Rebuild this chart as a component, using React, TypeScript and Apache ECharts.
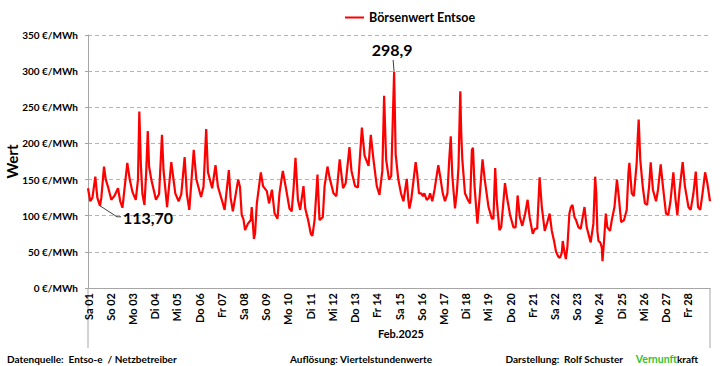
import React, { useEffect, useRef } from "react";
import * as echarts from "echarts";

const dayLabels = [
  "Sa 01", "So 02", "Mo 03", "Di 04", "Mi 05", "Do 06", "Fr 07",
  "Sa 08", "So 09", "Mo 10", "Di 11", "Mi 12", "Do 13", "Fr 14",
  "Sa 15", "So 16", "Mo 17", "Di 18", "Mi 19", "Do 20", "Fr 21",
  "Sa 22", "So 23", "Mo 24", "Di 25", "Mi 26", "Do 27", "Fr 28",
];

const yTicks = [0, 50, 100, 150, 200, 250, 300, 350];

// time in days since 01.02.2025 00:00
const timeDays = [
  0.0, 0.1, 0.2, 0.33, 0.42, 0.54, 0.6, 0.72, 0.8, 0.9,
  1.05, 1.2, 1.35, 1.45, 1.55, 1.77, 1.88,
  2.0, 2.15, 2.25, 2.31, 2.38, 2.45, 2.54, 2.62, 2.69, 2.75, 2.85,
  3.06, 3.2, 3.33, 3.4, 3.56, 3.75, 3.85, 3.93,
  4.08, 4.2, 4.35, 4.45, 4.56, 4.76, 4.88,
  5.09, 5.2, 5.32, 5.4, 5.59, 5.74, 5.85,
  6.07, 6.15, 6.34, 6.42, 6.52, 6.76, 6.84, 6.92,
  7.0, 7.07, 7.2, 7.33, 7.37, 7.47, 7.52, 7.6, 7.78, 7.88,
  8.05, 8.15, 8.28, 8.4, 8.53, 8.62, 8.77, 8.9,
  9.07, 9.17, 9.25, 9.34, 9.45, 9.55, 9.7, 9.78, 9.91,
  10.03, 10.1, 10.2, 10.33, 10.42, 10.57, 10.65, 10.78, 10.88,
  11.05, 11.18, 11.33, 11.48, 11.6, 11.77, 11.86,
  12.02, 12.15, 12.33, 12.45, 12.63, 12.73, 12.85,
  13.0, 13.12, 13.25, 13.33, 13.42, 13.55, 13.65, 13.78, 13.85, 13.97,
  14.09, 14.2, 14.35, 14.42, 14.47, 14.55, 14.75, 14.82, 14.9,
  15.0, 15.08, 15.14, 15.25, 15.33, 15.4, 15.5, 15.6, 15.77, 15.85, 15.97,
  16.07, 16.18, 16.26, 16.33, 16.4, 16.52, 16.6, 16.68, 16.72, 16.76, 16.8, 16.85, 16.97,
  17.1, 17.2, 17.28, 17.33, 17.4, 17.53, 17.62, 17.76, 17.86,
  18.03, 18.18, 18.25, 18.33, 18.4, 18.52, 18.6, 18.68, 18.77, 18.88,
  19.0, 19.15, 19.25, 19.34, 19.44, 19.55, 19.68, 19.79, 19.88,
  20.02, 20.12, 20.22, 20.33, 20.43, 20.56, 20.66, 20.78, 20.88, 20.98,
  21.07, 21.18, 21.25, 21.33, 21.37, 21.44, 21.51, 21.58, 21.67, 21.74, 21.81, 21.9,
  21.97, 22.08, 22.18, 22.27, 22.35, 22.45, 22.57, 22.63, 22.75, 22.83, 22.88, 22.93,
  22.98, 23.06, 23.13, 23.16, 23.23, 23.31, 23.38, 23.5, 23.58, 23.7, 23.81, 23.88,
  24.0, 24.13, 24.25, 24.33, 24.37, 24.48, 24.57, 24.7, 24.75, 24.79, 24.86, 24.97,
  25.07, 25.17, 25.26, 25.33, 25.43, 25.57, 25.66, 25.78, 25.88,
  26.02, 26.12, 26.22, 26.35, 26.45, 26.53, 26.63, 26.77, 26.87,
  27.03, 27.13, 27.25, 27.36, 27.46, 27.56, 27.66, 27.78, 27.88, 28.0,
];

// Börsenwert Entsoe in €/MWh
const prices = [
  138, 120, 125, 154, 125, 113.7, 125, 168, 150, 140,
  122, 128, 138, 120, 111, 173, 150,
  133, 122, 150, 244, 170, 130, 115, 160, 217, 168, 150,
  122, 130, 212, 163, 112, 174, 150, 131,
  120, 130, 181, 130, 108, 191, 150,
  126, 140, 220, 160, 138, 170, 140,
  117, 108, 163, 125, 106, 150, 140, 101,
  95, 80, 89, 94, 112, 68, 75, 117, 160, 141,
  134, 117, 136, 103, 96, 131, 162, 140,
  110, 106, 136, 180, 122, 108, 141, 110, 94,
  75, 72, 94, 157, 94, 98, 141, 168, 152,
  131, 127, 178, 138, 145, 195, 162,
  141, 139, 222, 183, 169, 212, 178,
  141, 129, 162, 266, 178, 150, 155, 298.9, 185, 150,
  131, 120, 151, 122, 110, 122, 174, 158, 131,
  131, 127, 131, 122, 124, 131, 120, 136, 170, 155, 131,
  120, 131, 177, 210, 155, 110, 131, 168, 224, 272, 215, 178, 131,
  122, 117, 191, 194, 141, 89, 122, 178, 150,
  112, 96, 96, 166, 122, 80, 84, 112, 145, 122,
  101, 84, 84, 128, 98, 86, 103, 122, 98,
  75, 82, 82, 153, 112, 79, 89, 103, 79, 65,
  50, 43, 42, 49, 65, 51, 40, 57, 103, 112, 115, 98,
  94, 84, 82, 98, 112, 84, 70, 63, 89, 154, 131, 79,
  65, 63, 56, 37, 65, 103, 84, 79, 94, 112, 150, 131,
  91, 94, 108, 160, 173, 131, 127, 173, 210, 233, 178, 141,
  117, 115, 141, 174, 136, 120, 136, 171, 141,
  103, 101, 120, 160, 122, 101, 136, 174, 141,
  112, 108, 130, 161, 112, 108, 130, 160, 145, 120,
];

const seriesName = "Börsenwert Entsoe";
const yAxisTitle = "Wert";
const annotations = [
  { day: 0.54, value: 113.7, text: "113,70" },
  { day: 13.78, value: 298.9, text: "298,9" },
];
const footerLeft = "Datenquelle:\u00a0\u00a0Entso-e\u00a0\u00a0/\u00a0Netzbetreiber";
const footerMid = "Auflösung:\u00a0Viertelstundenwerte";
const footerRight = "Darstellung:\u00a0\u00a0Rolf\u00a0Schuster";
const monthLabel = "Feb.2025";

const FONT = "Lato, 'Open Sans', sans-serif";

export default function App() {
  const ref = useRef<HTMLDivElement>(null);
  useEffect(() => {
    if (!ref.current) return;
    const chart = echarts.init(ref.current, undefined, { renderer: "svg" });
    const data = timeDays.map((t, i) => [t, prices[i]]);
    chart.setOption({
      animation: false,
      textStyle: { fontFamily: FONT },
      legend: {
        data: [seriesName],
        left: 345,
        top: 11,
        padding: 0,
        icon: "rect",
        itemWidth: 19,
        itemHeight: 2,
        itemGap: 4,
        textStyle: { fontFamily: FONT, fontWeight: "bold", fontSize: 12.5, color: "#000" },
      },
      grid: { left: 88, right: 13, top: 35, bottom: 78, containLabel: false, outerBoundsMode: "none" },
      xAxis: {
        type: "value",
        min: 0,
        max: 28,
        interval: 1,
        axisLine: { show: true, lineStyle: { color: "#a6a6a6", width: 1 } },
        axisTick: { show: false },
        splitLine: { show: false },
        axisLabel: {
          rotate: 90,
          margin: 5,
          fontFamily: FONT,
          fontWeight: "bold",
          fontSize: 11,
          color: "#000",
          formatter: (v: number) => (v < dayLabels.length ? dayLabels[Math.round(v)] : ""),
        },
      },
      yAxis: {
        type: "value",
        min: yTicks[0],
        max: yTicks[yTicks.length - 1],
        interval: 50,
        axisLine: { show: true, lineStyle: { color: "#a6a6a6", width: 1 } },
        axisTick: { show: true, length: 3, lineStyle: { color: "#a6a6a6" } },
        splitLine: { show: true, lineStyle: { color: "#b4b4b4", type: [4, 3], width: 1 } },
        axisLabel: {
          margin: 10,
          fontFamily: FONT,
          fontWeight: "bold",
          fontSize: 10,
          color: "#000",
          formatter: (v: number) => `${v} €/MWh`,
        },
      },
      series: [
        {
          name: seriesName,
          type: "line",
          data,
          symbol: "none",
          lineStyle: { color: "#ff0000", width: 2.2 },
          itemStyle: { color: "#ff0000" },
        },
      ],
    });

    const graphics: any[] = [];
    const p0 = chart.convertToPixel({ gridIndex: 0 }, [0, 0]) as number[];
    const pEnd = chart.convertToPixel({ gridIndex: 0 }, [28, 0]) as number[];
    const pTop = chart.convertToPixel({ gridIndex: 0 }, [0, yTicks[yTicks.length - 1]]) as number[];
    const bottomY = p0[1] + 60;
    graphics.push({
      type: "text",
      x: 12,
      y: (p0[1] + pTop[1]) / 2,
      rotation: Math.PI / 2,
      style: {
        text: yAxisTitle,
        textAlign: "center",
        textVerticalAlign: "middle",
        font: `bold 15px ${FONT}`,
        fill: "#000",
      },
    });
    graphics.push({
      type: "line",
      shape: { x1: p0[0], y1: p0[1], x2: p0[0], y2: bottomY },
      style: { stroke: "#a6a6a6", lineWidth: 1 },
    });
    graphics.push({
      type: "line",
      shape: { x1: pEnd[0], y1: p0[1], x2: pEnd[0], y2: bottomY },
      style: { stroke: "#a6a6a6", lineWidth: 1 },
    });
    graphics.push({
      type: "text",
      x: (p0[0] + pEnd[0]) / 2 + 2,
      y: p0[1] + 45,
      style: {
        text: monthLabel,
        textAlign: "center",
        textVerticalAlign: "middle",
        font: `bold 11px ${FONT}`,
        fill: "#000",
      },
    });

    // annotations
    const a1 = chart.convertToPixel({ gridIndex: 0 }, [annotations[0].day, annotations[0].value]) as number[];
    graphics.push({
      type: "polyline",
      shape: { points: [[a1[0], a1[1]], [a1[0] + 17, a1[1] + 11], [a1[0] + 21, a1[1] + 11]] },
      style: { stroke: "#404040", lineWidth: 1, fill: "none" },
    });
    graphics.push({
      type: "text",
      x: a1[0] + 23,
      y: a1[1] + 12,
      style: {
        text: annotations[0].text,
        textAlign: "left",
        textVerticalAlign: "middle",
        font: `bold 16px ${FONT}`,
        fill: "#000",
      },
    });
    const a2 = chart.convertToPixel({ gridIndex: 0 }, [annotations[1].day, annotations[1].value]) as number[];
    graphics.push({
      type: "line",
      shape: { x1: a2[0], y1: a2[1], x2: a2[0] - 1, y2: a2[1] - 12 },
      style: { stroke: "#404040", lineWidth: 1 },
    });
    graphics.push({
      type: "text",
      x: a2[0] - 2,
      y: a2[1] - 22,
      style: {
        text: annotations[1].text,
        textAlign: "center",
        textVerticalAlign: "middle",
        font: `bold 16px ${FONT}`,
        fill: "#000",
      },
    });

    // footer
    const footY = 359;
    const footFont = `bold 10px ${FONT}`;
    graphics.push({
      type: "text", x: 7, y: footY,
      style: { text: footerLeft, textAlign: "left", textVerticalAlign: "middle", font: footFont, fill: "#000" },
    });
    graphics.push({
      type: "text", x: 290, y: footY,
      style: { text: footerMid, textAlign: "left", textVerticalAlign: "middle", font: footFont, fill: "#000" },
    });
    graphics.push({
      type: "text", x: 623, y: footY,
      style: { text: footerRight, textAlign: "right", textVerticalAlign: "middle", font: footFont, fill: "#000" },
    });
    graphics.push({
      type: "text", x: 698, y: footY,
      style: {
        text: "{g|Vernunft}{k|kraft}",
        textAlign: "right",
        textVerticalAlign: "middle",
        font: footFont,
        rich: {
          g: { fill: "#33c233", font: `bold 10.5px ${FONT}` },
          k: { fill: "#000", font: footFont },
        },
      },
    });

    chart.setOption({ graphic: graphics });
    return () => chart.dispose();
  }, []);
  return (
    <div
      ref={ref}
      style={{ position: "fixed", left: 0, top: 0, width: 723, height: 366, background: "#fff" }}
    />
  );
}
